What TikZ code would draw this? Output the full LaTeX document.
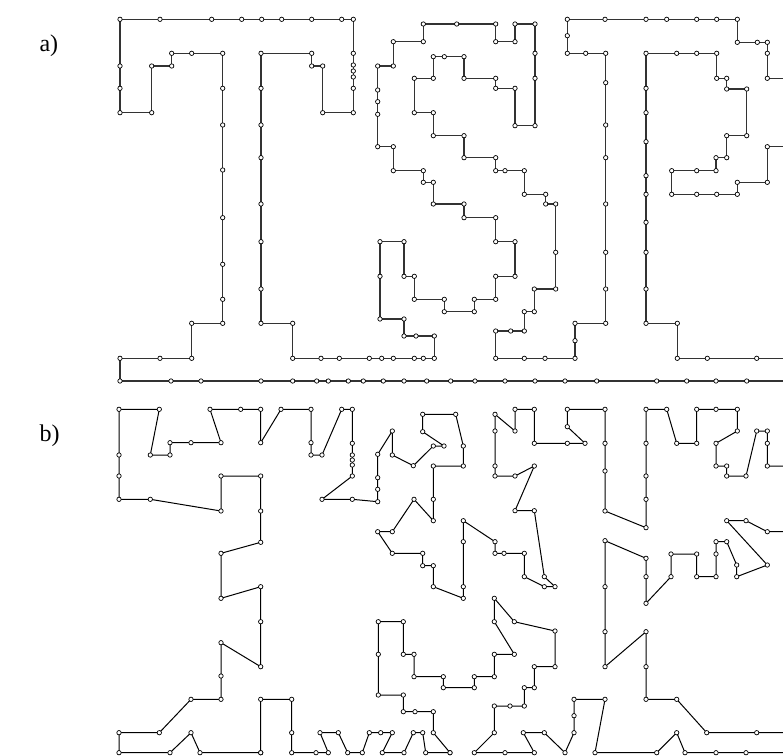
\documentclass[tikz,border=0pt]{standalone}
\usepackage{fontspec}
\setmainfont{Liberation Serif}
\begin{document}
\begin{tikzpicture}[x=1pt,y=-1pt,
  touralines/.style={line width=1.3pt, black!80},
  tourblines/.style={line width=1pt, black},
  dotmarks/.style={mark=*, mark size=2.2pt, mark options={fill=white, draw=black, line width=0.7pt, solid}},
  panellabel/.style={font=\fontsize{24}{28}\selectfont, anchor=west}]
\useasboundingbox (0,0) rectangle (783,755);
\node[panellabel] (la) at (36,46) {a)};
\node[panellabel] (lb) at (36,436) {b)};
\clip (0,0) rectangle (783,755);
% ---------- panel a ----------
\draw[touralines] plot[dotmarks] coordinates {
(800,381) (746.7,381) (716,381) (686.7,381) (656.7,381) (596.7,381) (565,381) (535,381) (505,381) (475,381) (450.7,381) (426.7,381) (404,381) (383.3,381) (363.3,381) (348.3,381) (328.3,381) (316.7,381) (292.7,381) (261,381) (201,381) (171,381) (120,381)
(120,358.3) (160,358.3) (191.7,358.3) (191.7,323.3) (222.7,323.3) (222.7,299.3) (222.7,264.3) (222.7,217.7) (222.7,170) (222.7,125) (222.7,88.3) (222.7,53.3) (191.7,53.3) (171.7,53.3) (171.7,66) (151.7,66) (151.7,112.7) (120,112.7) (120,88.3) (120,66) (120,19.3) (160,19.3) (211.7,19.3) (241.7,19.3) (261.7,19.3) (281.7,19.3) (311.7,19.3) (341.7,19.3) (353.3,19.3) (353.3,53.3) (353.3,65) (353.3,71) (353.3,77) (353.3,88.3) (353.3,112.7) (322.7,112.7) (322.7,66) (311.7,66) (311.7,53.3) (261,53.3) (261,88.3) (261,125) (261,157.7) (261,204) (261,241.7) (261,289) (261,323.3) (292.7,323.3) (292.7,358.3) (321,358.3) (339.3,358.3) (369.3,358.3) (381.7,358.3) (393.3,358.3) (414.3,358.3) (423.3,358.3) (434.3,358.3) (434.3,336) (416,336) (404,336) (404,319) (380,319) (380,276.3) (380,241.7) (404,241.7) (404,276.3) (414.3,276.3) (414.3,299.3) (444.3,299.3) (444.3,311.7) (474.3,311.7) (474.3,299.3) (495.7,299.3) (495.7,276.3) (515,276.3) (515,241.7) (495.7,241.7) (495.7,217.7) (464,217.7) (464,204) (433.3,204) (433.3,182.3) (423.3,182.3) (423.3,170.7) (393.3,170.7) (393.3,146.7) (377.7,146.7) (377.7,114.3) (377.7,101.7) (377.7,90) (377.7,66) (393.3,66) (393.3,41.7) (423.3,41.7) (423.3,24) (456.7,24) (495.7,24) (495.7,41.7) (515,41.7) (515,24) (535,24) (535,53.3) (535,78.3) (535,125.7) (515,125.7) (515,88.3) (495.7,88.3) (495.7,78.3) (464,78.3) (464,56.7) (444.3,56.7) (433.3,56.7) (433.3,78.3) (414.3,78.3) (414.3,112.7) (433.3,112.7) (433.3,135.7) (464,135.7) (464,157.7) (495.7,157.7) (495.7,170.7) (505,170.7) (524.3,170.7) (524.3,194.3) (545.7,194.3) (545.7,204) (555.7,204) (555.7,252.3) (555.7,289) (534.3,289) (534.3,311.7) (524.3,311.7) (524.3,331) (510.7,331) (495.7,331) (495.7,358.3) (524.3,358.3) (545,358.3) (575,358.3) (575,340.7) (575,323.3) (605.7,323.3) (605.7,289) (605.7,252.3) (605.7,204) (605.7,157.7) (605.7,125) (605.7,82.7) (605.7,53.3) (585.7,53.3) (567.3,53.3) (567.3,35.7) (567.3,19.3) (605,19.3) (646,19.3) (666.7,19.3) (696.7,19.3) (716.7,19.3) (737.3,19.3) (737.3,42.3) (757.3,42.3) (767.3,42.3) (767.3,53.3) (767.3,78.3) (800,78.3)};
\draw[touralines] plot[dotmarks] coordinates {
(800,146.7) (767.3,146.7) (767.3,182.3) (737.3,182.3) (737.3,194.3) (716.7,194.3) (696.7,194.3) (671.7,194.3) (671.7,170.7) (696.7,170.7) (716,170.7) (716,157.7) (726.7,157.7) (726.7,135.7) (746.7,135.7) (746.7,89) (726.7,89) (726.7,78.3) (716.7,78.3) (716.7,53.3) (696.7,53.3) (676.7,53.3) (646,53.3) (646,88.3) (646,112.7) (646,141.7) (646,175.7) (646,194.3) (646,222.3) (646,252.3) (646,289) (646,323.3) (677.3,323.3) (677.3,358.3) (707.3,358.3) (756.7,358.3) (800,358.3)};
% ---------- panel b ----------
\draw[tourblines] plot[dotmarks] coordinates {
(260.7,752.7) (200,752.7) (191,732.7) (170,752.7) (119,752.7) (119,732.7) (159.3,732.7) (191,699.3) (221,699.3) (221,676) (221,642.7) (260.7,666.7) (260.7,621.7) (260.7,586.7) (221,598.3) (221,553.3) (260.7,542.3) (260.7,511) (260.7,476) (221,476) (221,511) (150.3,499.3) (119,499.3) (119,476) (119,455) (119,409.3) (159.3,409.3) (150.3,455) (170,455) (170,442.7) (191,442.7) (221,442.7) (210,409.3) (240.7,409.3) (260.7,409.3) (260.7,442.7) (281,409.3) (311,409.3) (311,442.7) (311,455) (322,455) (341.7,409.3) (352.3,409.3) (352.3,443.3) (352.3,455) (352.3,460) (352.3,465) (352.3,476) (322,499.3) (352.3,499.3) (377.7,501.7) (377.7,489.3) (377.7,477.7) (377.7,454.3) (392.3,431) (392.3,455) (413.3,465.7) (433.3,446) (444,446) (422.7,431.7) (422.7,414.3) (455.7,414.3) (463.3,446) (463.3,466) (433.3,466) (433.3,499.3) (433.3,520.7) (414,499.3) (392.3,531.7) (377.7,531.7) (392.3,553.3) (422.7,553.3) (422.7,565.7) (433.3,565.7) (433.3,586.7) (463.3,598.3) (463.3,586.7) (463.3,541.7) (463.3,520.7) (495,541.7) (495,553.3) (504,553.3) (524.3,553.3) (524.3,576.7) (544.3,586.7) (555,586.7) (544.3,576.7) (534.3,510.7) (515,510.7) (534.3,466) (515,476) (495,476) (495,466) (495,431) (495,414.3) (515,431) (515,409.3) (534.3,409.3) (534.3,443.3) (567.3,443.3) (585,443.3) (567.3,426.7) (567.3,409.3) (605,409.3) (605,443.3) (605,471) (605,511) (646,527.7) (646,499.3) (646,476) (646,443.3) (646,409.3) (666.7,409.3) (676.7,443.3) (696.7,443.3) (696.7,409.3) (716,409.3) (737.3,409.3) (737.3,431) (716,443.3) (716,466) (726.7,466) (726.7,476) (746,476) (756.7,431) (767.3,431) (767.3,443.3) (767.3,466) (800,466)};
\draw[tourblines] plot[dotmarks] coordinates {
(800,531.7) (767.3,531.7) (746,520.7) (726.7,520.7) (767.3,565) (736.7,576.7) (736.7,565) (726.7,541.7) (716,541.7) (716,554) (716,576.7) (696.7,576.7) (696.7,554) (671,554) (671,576.7) (646,603.3) (646,576.7) (646,558.3) (605,540.7) (605,586.7) (605,631.7) (605,666.7) (646,631.7) (646,666.7) (646,699.3) (676.7,699.3) (706.7,732.7) (756.7,732.7) (800,732.7)};
\draw[tourblines] plot[dotmarks] coordinates {
(450,752.7) (433.3,732.7) (433.3,711.7) (415,711.7) (403.3,711.7) (403.3,695) (378.3,695) (378.3,654.3) (378.3,621.7) (403.3,621.7) (403.3,654.3) (414,654.3) (414,676.7) (443.3,676.7) (443.3,687.7) (474.3,687.7) (474.3,676.7) (494.3,676.7) (494.3,654.3) (514.3,654.3) (494.3,621.7) (494.3,598.3) (514.3,621.7) (555,631) (555,666.7) (534.3,666.7) (534.3,687.7) (524.3,687.7) (524.3,706) (510,706) (494.3,706) (494.3,732.7) (474.3,752.7) (505,752.7) (534.3,752.7) (523.3,732.7) (544.3,732.7) (565,752.7) (574,732.7) (574,715.7) (574,699.3) (605,699.3) (595,752.7) (656.7,752.7) (676.7,732.7) (685,752.7) (716,752.7) (746,752.7) (800,752.7)};
\draw[tourblines] plot[dotmarks] coordinates {
(260.7,752.7) (260.7,699.3) (291.7,699.3) (291.7,732.7) (291.7,752.7) (316,752.7) (328.3,752.7) (320,732.7) (338.3,732.7) (347.7,752.7) (362.3,752.7) (369.3,732.7) (380.7,732.7) (392.3,732.7) (382.3,752.7) (404,752.7) (413.3,732.7) (422.7,732.7) (425.7,752.7) (450,752.7)};
\end{tikzpicture}
\end{document}
